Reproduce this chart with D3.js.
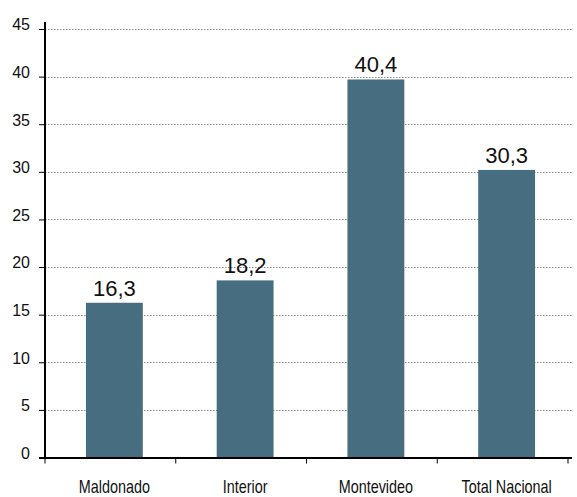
<!DOCTYPE html>
<html><head><meta charset="utf-8">
<script src="https://cdn.jsdelivr.net/npm/d3@7"></script>
<style>body{margin:0;background:#fff}</style>
</head><body>
<svg id="c" width="577" height="497"></svg>
<script>
const categories = ["Maldonado", "Interior", "Montevideo", "Total Nacional"];
const values = [16.25, 18.6, 39.7, 30.2];
const valueLabels = ["16,3", "18,2", "40,4", "30,3"];
const yTicks = [0, 5, 10, 15, 20, 25, 30, 35, 40, 45];

(function () {
const svg = d3.select("#c");
const mLeft = 45, mRight = 568, mTop = 29, mBottom = 457.5;
const step = (mRight - mLeft) / categories.length;
const x = d3.scaleBand().domain(categories).range([mLeft + 4, mRight + 4]).paddingInner(0.565).paddingOuter(0.2825);
const y = d3.scaleLinear().domain([0, 45]).range([mBottom, mTop]);
const font = "Liberation Sans, Arial, Helvetica, sans-serif";

// grid
svg.append("g").selectAll("line").data(yTicks.filter(d => d > 0)).join("line")
  .attr("x1", mLeft).attr("x2", 572).attr("y1", d => Math.round(y(d)) + 0.5).attr("y2", d => Math.round(y(d)) + 0.5)
  .attr("stroke", "#888").attr("stroke-width", 1).attr("stroke-dasharray", "1.5,1.5");

// bars
svg.append("g").selectAll("rect").data(values).join("rect")
  .attr("x", (d, i) => x(categories[i])).attr("width", x.bandwidth())
  .attr("y", d => y(d)).attr("height", d => y(0) - y(d))
  .attr("fill", "#476e80");

// value labels
svg.append("g").selectAll("text").data(values).join("text")
  .attr("x", (d, i) => x(categories[i]) + x.bandwidth() / 2)
  .attr("y", d => y(d) - 7)
  .attr("text-anchor", "middle")
  .attr("font-family", font).attr("font-size", 22).attr("fill", "#111")
  .text((d, i) => valueLabels[i]);

// y axis
const yAxis = d3.axisLeft(y).tickValues(yTicks).tickSize(6).tickPadding(9);
const gy = svg.append("g").attr("transform", `translate(${mLeft},0)`).call(yAxis);
gy.select(".domain").remove();
gy.selectAll(".tick line").attr("stroke", "#000").attr("stroke-width", 1);
gy.selectAll(".tick text").attr("font-family", font).attr("font-size", 16).attr("fill", "#111")
  .attr("dy", "0.05em");
svg.append("line").attr("x1", mLeft).attr("x2", mLeft).attr("y1", 22).attr("y2", mBottom + 1)
  .attr("stroke", "#000").attr("stroke-width", 2);

// x axis
const boundaries = d3.range(categories.length + 1).map(i => mLeft + i * step);
svg.append("line").attr("x1", mLeft - 6).attr("x2", 572).attr("y1", mBottom + 0.5).attr("y2", mBottom + 0.5)
  .attr("stroke", "#000").attr("stroke-width", 2);
svg.append("g").selectAll("line").data(boundaries).join("line")
  .attr("x1", d => d).attr("x2", d => d).attr("y1", mBottom).attr("y2", mBottom + 6)
  .attr("stroke", "#000").attr("stroke-width", 1);
svg.append("g").selectAll("text").data(categories).join("text")
  .attr("transform", d => `translate(${x(d) + x.bandwidth() / 2},492.5) scale(0.8,1)`)
  .attr("text-anchor", "middle")
  .attr("font-family", font).attr("font-size", 18).attr("fill", "#111")
  .text(d => d);
})();
</script>
</body></html>
